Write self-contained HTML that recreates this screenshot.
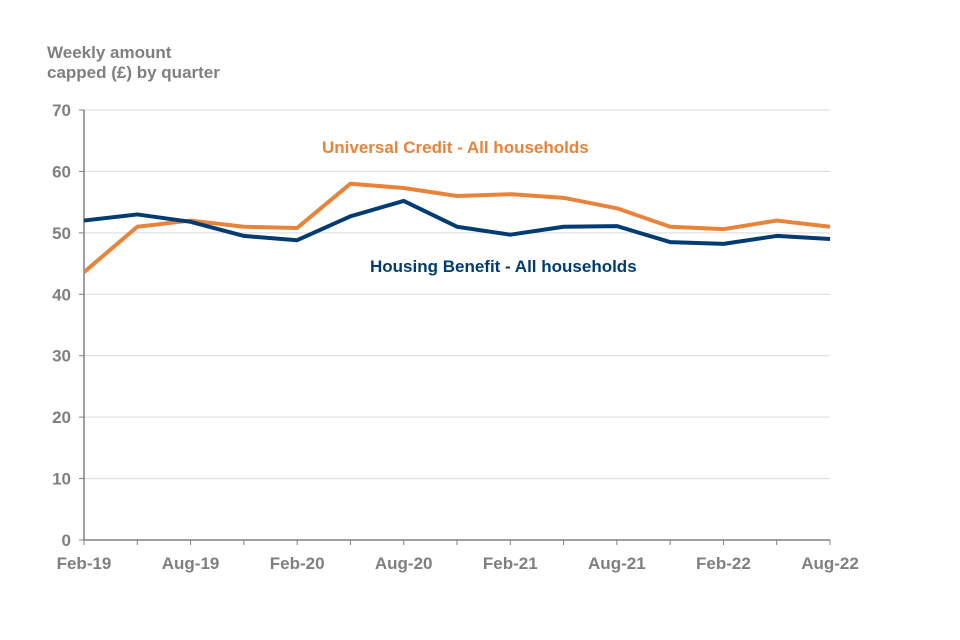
<!DOCTYPE html>
<html><head><meta charset="utf-8"><style>
body{margin:0;background:#fff;}
svg{display:block;font-family:"Liberation Sans",Arial,sans-serif;font-weight:bold;}
</style></head><body>
<svg id="chart" width="960" height="640"></svg>
<script>
const categories=["Feb-19","May-19","Aug-19","Nov-19","Feb-20","May-20","Aug-20","Nov-20","Feb-21","May-21","Aug-21","Nov-21","Feb-22","May-22","Aug-22"];
const ucValues=[43.6,51,52,51,50.8,58,57.3,56,56.3,55.7,54,51,50.6,52,51];
const hbValues=[52,53,51.8,49.5,48.8,52.7,55.2,51,49.7,51,51.1,48.5,48.2,49.5,49];
const yTicks=[0,10,20,30,40,50,60,70];
const xLabelIdx=[0,2,4,6,8,10,12,14];

const NS="http://www.w3.org/2000/svg";
const svg=document.getElementById('chart');
const L=84,R=830,T=110,B=540,YMAX=70;
const FS=17;
const x=i=>L+(R-L)*i/(categories.length-1);
const y=v=>B-(B-T)*v/YMAX;
function el(tag,attrs,parent){const e=document.createElementNS(NS,tag);for(const k in attrs)e.setAttribute(k,attrs[k]);(parent||svg).appendChild(e);return e;}
function txt(s,attrs){const t=el('text',attrs);t.textContent=s;return t;}

yTicks.forEach(v=>{
  if(v>0){const g=el('line',{x1:L,x2:R,y1:y(v),y2:y(v),stroke:'#d9d9d9','stroke-width':1});
  
  }
  const tk=el('line',{x1:L-5,x2:L,y1:y(v),y2:y(v),stroke:'#808080','stroke-width':1});
  
  
  const t=txt(String(v),{x:L-13,y:y(v)+6,'text-anchor':'end','font-size':FS,fill:'#7f7f7f'});
  
  
});
const ya=el('line',{x1:L,x2:L,y1:T,y2:B,stroke:'#808080','stroke-width':1.5});


const xa=el('line',{x1:L,x2:R,y1:B,y2:B,stroke:'#808080','stroke-width':1.5});


categories.forEach((c,i)=>{
  const tk=el('line',{x1:x(i),x2:x(i),y1:B,y2:B+5,stroke:'#808080','stroke-width':1});
  
  
});
xLabelIdx.forEach(i=>{
  const t=txt(categories[i],{x:x(i),y:B+29,'text-anchor':'middle','font-size':FS,fill:'#7f7f7f'});
  
  
});
function series(vals,color,name){
  const p=el('polyline',{points:vals.map((v,i)=>x(i)+','+y(v)).join(' '),fill:'none',stroke:color,'stroke-width':4,'stroke-linejoin':'round'});
  
  
}
series(ucValues,'#e8833a','universal-credit-line');
series(hbValues,'#003c71','housing-benefit-line');

const t1=txt('Weekly amount',{x:47,y:58,'font-size':FS,fill:'#7f7f7f'});


const t2=txt('capped (£) by quarter',{x:47,y:78,'font-size':FS,fill:'#7f7f7f'});


const l1=txt('Universal Credit - All households',{x:322,y:153,'font-size':FS,fill:'#e8833a'});


const l2=txt('Housing Benefit - All households',{x:370,y:272,'font-size':FS,fill:'#003c71'});


</script>
</body></html>
